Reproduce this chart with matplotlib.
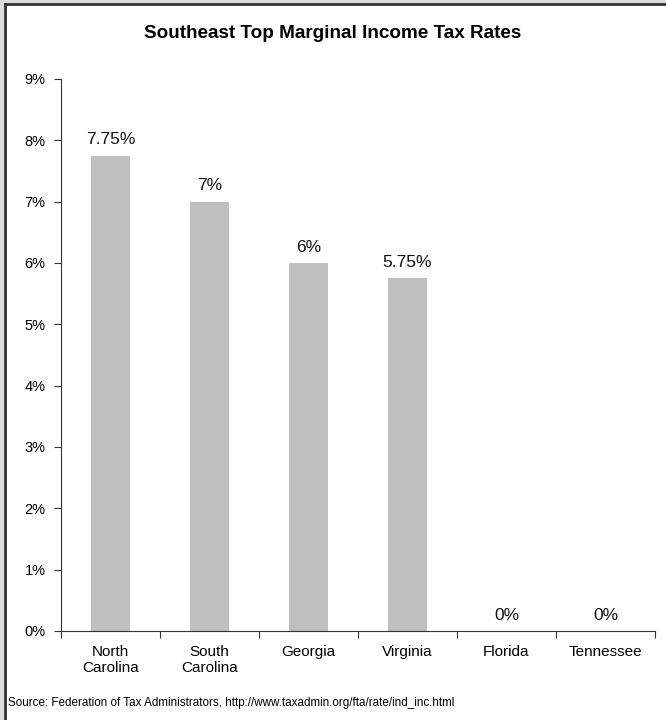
import matplotlib.pyplot as plt
from matplotlib.patches import Rectangle
from matplotlib.lines import Line2D
import numpy as np

states = ['North\nCarolina', 'South\nCarolina', 'Georgia', 'Virginia', 'Florida', 'Tennessee']
rates = [7.75, 7, 6, 5.75, 0, 0]
rate_labels = ['7.75%', '7%', '6%', '5.75%', '0%', '0%']
source = 'Source: Federation of Tax Administrators, http://www.taxadmin.org/fta/rate/ind_inc.html'

plt.rcParams['font.family'] = ['Liberation Sans', 'DejaVu Sans']

fig = plt.figure(figsize=(6.66, 7.2), dpi=100)
fig.patch.set_facecolor('#dcdcdc')
# white panel with dark left/top edge
fig.patches.append(Rectangle((4 / 666, 0), 1, 1 - 3 / 720, transform=fig.transFigure,
                             facecolor='white', edgecolor='none', zorder=-2))
fig.lines.append(Line2D([4.5 / 666, 4.5 / 666], [0, 1 - 3.5 / 720], transform=fig.transFigure,
                        color='#333333', lw=2))
fig.lines.append(Line2D([4.5 / 666, 1], [1 - 3.5 / 720, 1 - 3.5 / 720], transform=fig.transFigure,
                        color='#333333', lw=2))

ax = fig.add_axes([61 / 666, 1 - 631 / 720, 594 / 666, 552 / 720])
ax.set_facecolor('none')
x = np.arange(len(states))
ax.bar(x, rates, width=0.4, color='#bfbfbf')
for xi, r, lab in zip(x, rates, rate_labels):
    ax.annotate(lab, (xi, r), xytext=(0, 6), textcoords='offset points',
                ha='center', va='bottom', fontsize=12.5, color='#111111')

ax.set_xlim(-0.5, len(states) - 0.5)
ax.set_ylim(0, 9)
ax.set_yticks(range(10))
ax.set_yticklabels([f'{i}%' for i in range(10)], fontsize=10.5)
ax.set_xticks(np.arange(-0.5, len(states), 1.0))
ax.set_xticklabels([])
ax.set_xticks(x, minor=True)
ax.set_xticklabels(states, minor=True, fontsize=11)
ax.tick_params(axis='x', which='minor', length=0, pad=10)
ax.tick_params(axis='x', which='major', length=5, color='#333333')
ax.tick_params(axis='y', length=5, color='#333333', pad=6)
for s in ['top', 'right']:
    ax.spines[s].set_visible(False)
for s in ['left', 'bottom']:
    ax.spines[s].set_color('#333333')

fig.text(0.5, 1 - 33 / 720, 'Southeast Top Marginal Income Tax Rates', ha='center', va='center',
         fontsize=13.6, fontweight='bold')
fig.text(8 / 666, 1 - 703 / 720, source, ha='left', va='center', fontsize=8.4)

fig.savefig('out.png', dpi=100)
